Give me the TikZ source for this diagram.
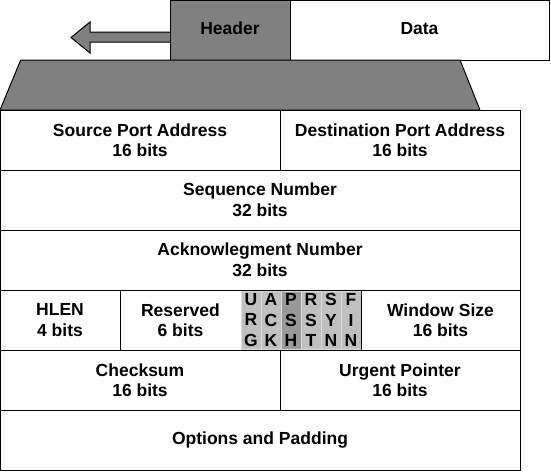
\documentclass[tikz,border=0pt]{standalone}
\usepackage{fontspec}
\setmainfont{Liberation Sans}
\usetikzlibrary{positioning}
\definecolor{hdrgray}{HTML}{808080}
\definecolor{flaggray}{HTML}{C0C0C0}
\definecolor{pshgray}{HTML}{999999}
\definecolor{flagline}{HTML}{DADADA}
\tikzset{
  field/.style={draw, line width=1pt, fill=white, inner sep=0pt, outer sep=0pt,
    minimum height=60pt, align=center, font=\fontsize{17.5}{20.5}\selectfont\bfseries},
  segbox/.style={field, text height=13pt, text depth=4pt},
  flagbox/.style={field, draw=flagline, line width=0.8pt, fill=flaggray,
    minimum width=20pt, minimum height=58pt},
}
\begin{document}
\begin{tikzpicture}[x=1pt, y=-1pt]
    \useasboundingbox (0,0) rectangle (551,471);

    \node[segbox, fill=hdrgray, minimum width=120pt, anchor=north west] (hdr) at (170,0) {Header};
    \node[segbox, minimum width=259pt, right=0pt of hdr] (data) {Data};
    \draw[line width=1pt, fill=hdrgray] (hdr.west |- 0,32) -- (90,32) -- (90,22) -- (71,37.5)
      -- (90,53) -- (90,42) -- (hdr.west |- 0,42);
    \draw[line width=1pt, fill=hdrgray] (20.7,60) -- (460,60) -- (480,110) -- (0,110) -- cycle;

    \node[field, minimum width=280pt, anchor=north west] (src) at (0,110) {Source Port Address\\16 bits};
    \node[field, minimum width=240pt, right=0pt of src] (dst) {Destination Port Address\\16 bits};
    \node[field, minimum width=520pt, anchor=north west] (seq) at (src.south west) {Sequence Number\\32 bits};
    \node[field, minimum width=520pt, anchor=north west] (ack) at (seq.south west) {Acknowlegment Number\\32 bits};

    \node[field, minimum width=120pt, anchor=north west] (hlen) at (ack.south west) {HLEN\\4 bits};
    \node[field, minimum width=121pt, right=0pt of hlen] (rsv) {Reserved\\6 bits};
    \node[flagbox, right=0pt of rsv] (furg) {U\\R\\G};
    \node[flagbox, right=0pt of furg] (fack) {A\\C\\K};
    \node[flagbox, fill=pshgray, right=0pt of fack] (fpsh) {P\\S\\H};
    \node[flagbox, right=0pt of fpsh] (frst) {R\\S\\T};
    \node[flagbox, right=0pt of frst] (fsyn) {S\\Y\\N};
    \node[flagbox, right=0pt of fsyn] (ffin) {F\\I\\N};
    \node[field, minimum width=159pt, right=0pt of ffin] (win) {Window Size\\16 bits};

    \node[field, minimum width=280pt, anchor=north west] (chk) at (hlen.south west) {Checksum\\16 bits};
    \node[field, minimum width=240pt, right=0pt of chk] (urgp) {Urgent Pointer\\16 bits};
    \node[field, minimum width=520pt, anchor=north west] (opt) at (chk.south west) {Options and Padding};
\end{tikzpicture}
\end{document}
